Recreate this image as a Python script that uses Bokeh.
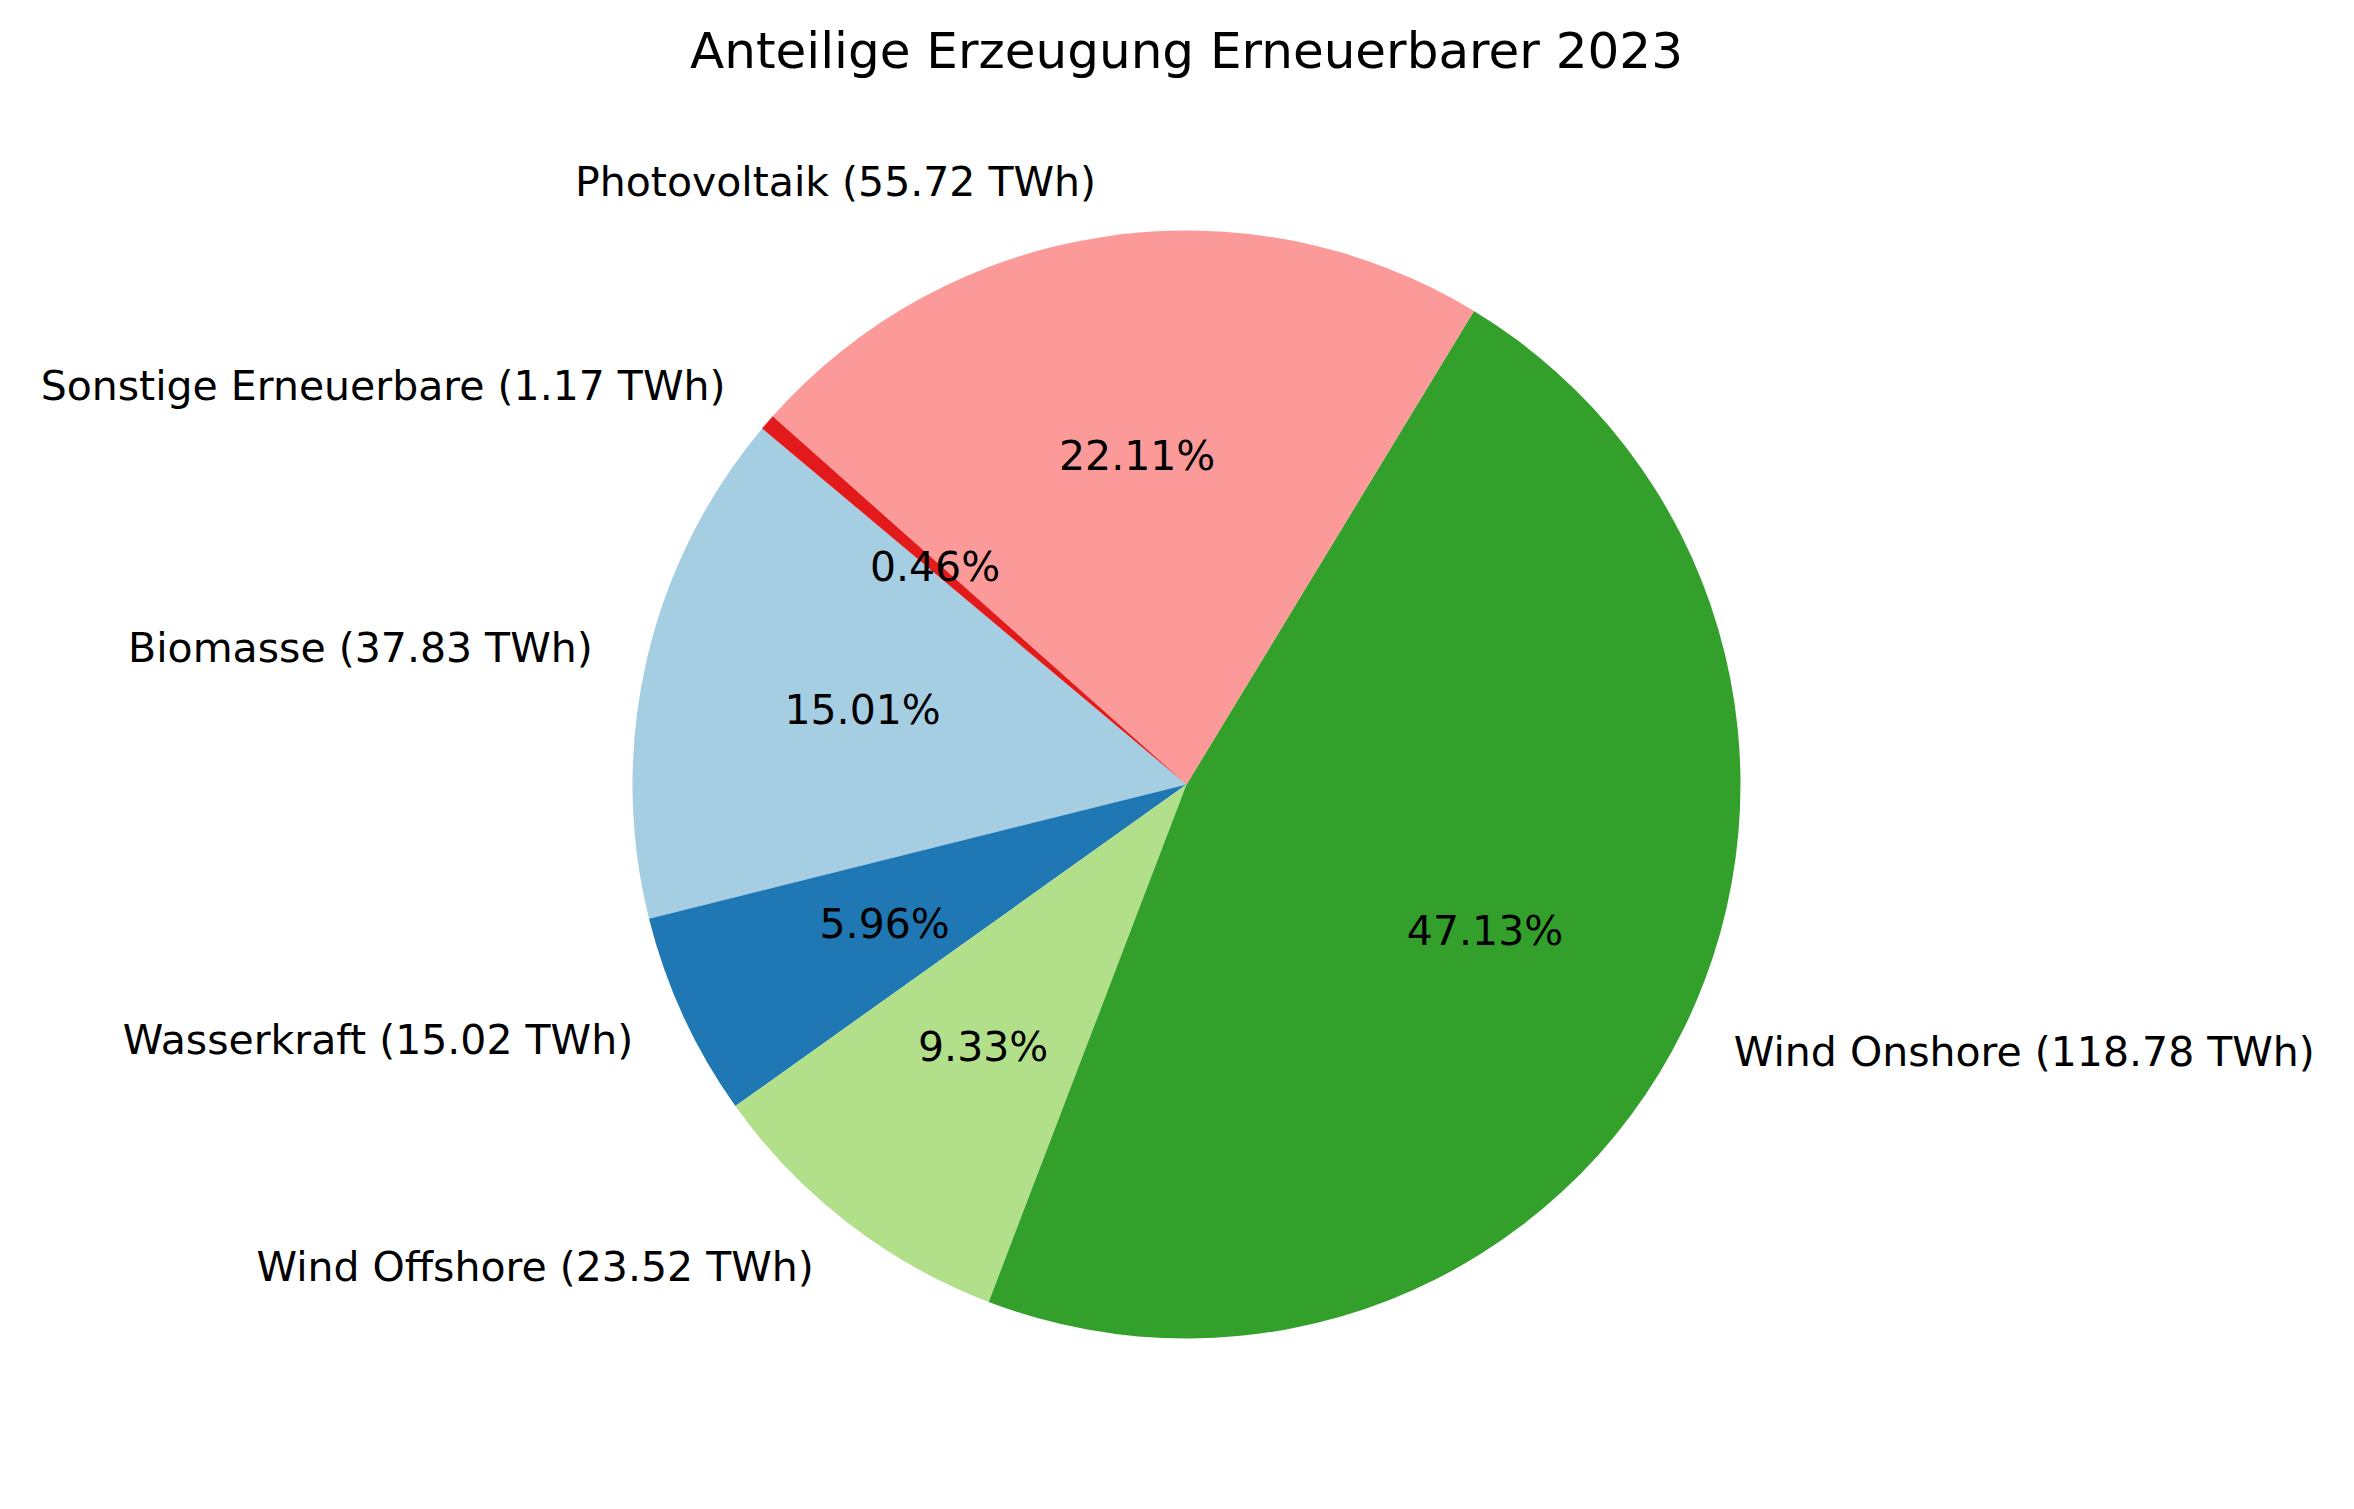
import numpy as np
from bokeh.plotting import figure
from bokeh.models import ColumnDataSource
from bokeh.core.properties import value
from bokeh.embed import file_html
from bokeh.resources import INLINE

labels = ["Biomasse", "Wasserkraft", "Wind Offshore", "Wind Onshore", "Photovoltaik", "Sonstige Erneuerbare"]
twh = [37.83, 15.02, 23.52, 118.78, 55.72, 1.17]
colors = ["#a6cee3", "#1f78b4", "#b2df8a", "#33a02c", "#fb9a99", "#e31a1c"]

vals = np.array(twh)
frac = vals / vals.sum()
start = np.deg2rad(140) + 2 * np.pi * np.concatenate([[0], np.cumsum(frac)[:-1]])
end = start + 2 * np.pi * frac
mid = (start + end) / 2

src = ColumnDataSource(dict(start=start, end=end, color=colors))

W, H = 2338, 1493
cx, cy, r = 1186, 784, 554
p = figure(width=W, height=H, x_range=(-cx / r, (W - cx) / r), y_range=(-(H - cy) / r, cy / r),
           output_backend="svg", toolbar_location=None, min_border=0, match_aspect=False)
p.axis.visible = False
p.grid.visible = False
p.outline_line_color = None

p.wedge(x=0, y=0, radius=1, start_angle="start", end_angle="end", fill_color="color",
        line_color=None, source=src)

lx = 1.1 * np.cos(mid)
ly = 1.1 * np.sin(mid)
left = lx >= 0
lab = [f"{n} ({v:.2f} TWh)" for n, v in zip(labels, twh)]
for m, align in ((left, "left"), (~left, "right")):
    p.text(x=lx[m], y=ly[m], text=[l for l, k in zip(lab, m) if k], text_align=align,
           text_baseline="middle", text_font=value("DejaVu Sans"), text_font_size="41px")
p.text(x=0.6 * np.cos(mid), y=0.6 * np.sin(mid), text=[f"{f*100:.2f}%" for f in frac],
       text_align="center", text_baseline="middle", text_font=value("DejaVu Sans"),
       text_font_size="41px")
p.text(x=[0], y=[(cy - 50) / r], text=["Anteilige Erzeugung Erneuerbarer 2023"], text_align="center",
       text_baseline="middle", text_font=value("DejaVu Sans"), text_font_size="50px")

open("out.html", "w").write(file_html(p, INLINE))
